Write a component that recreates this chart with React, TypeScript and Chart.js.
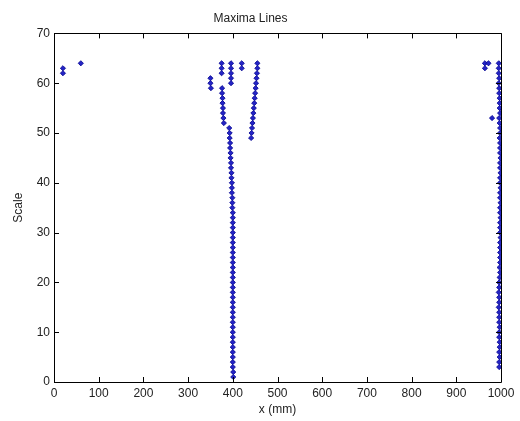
import React, { useEffect, useRef } from "react";
import { Chart, registerables } from "chart.js";

Chart.register(...registerables);

const titleText = "Maxima Lines";
const xLabel = "x (mm)";
const yLabel = "Scale";
const xTicks = [0, 100, 200, 300, 400, 500, 600, 700, 800, 900, 1000];
const yTicks = [0, 10, 20, 30, 40, 50, 60, 70];

// Cluster near the left edge
const edgeX = [20, 20, 60];
const edgeY = [63, 62, 64];

// Main line near x = 400 (scales 51 down to 1)
const mainY = [51, 50, 49, 48, 47, 46, 45, 44, 43, 42, 41, 40, 39, 38, 37, 36, 35, 34, 33, 32, 31, 30, 29, 28, 27, 26, 25, 24, 23, 22, 21, 20, 19, 18, 17, 16, 15, 14, 13, 12, 11, 10, 9, 8, 7, 6, 5, 4, 3, 2, 1];
const mainX = [392, 393, 393, 394, 394, 395, 395, 396, 396, 397, 397, 398, 398, 398, 399, 399, 399, 400, 400, 400, 400, 400, 400, 400, 400, 400, 400, 400, 400, 400, 400, 400, 400, 400, 400, 400, 400, 400, 400, 400, 400, 400, 400, 400, 400, 400, 400, 400, 400, 401, 401];

// Left branch and small groups near the top of the 400 line
const branchLX = [376, 376, 377, 377, 378, 378, 379, 380];
const branchLY = [59, 58, 57, 56, 55, 54, 53, 52];
const farLX = [350, 350, 351];
const farLY = [61, 60, 59];
const topAX = [375, 375, 375];
const topAY = [64, 63, 62];
const topBX = [396, 396, 396, 396, 396];
const topBY = [64, 63, 62, 61, 60];
const topCX = [420, 420];
const topCY = [64, 63];

// Right branch near x = 450
const branchRY = [64, 63, 62, 61, 60, 59, 58, 57, 56, 55, 54, 53, 52, 51, 50, 49];
const branchRX = [455, 455, 454, 453, 452, 451, 450, 449, 448, 447, 446, 445, 444, 443, 442, 441];

// Cluster near x = 1000
const nearEndX = [964, 972, 964, 980];
const nearEndY = [64, 64, 63, 53];
const endY = [64, 63, 62, 61, 60, 59, 58, 57, 56, 55, 54, 53, 52, 51, 50, 49, 48, 47, 46, 45, 44, 43, 42, 41, 40, 39, 38, 37, 36, 35, 34, 33, 32, 31, 30, 29, 28, 27, 26, 25, 24, 23, 22, 21, 20, 19, 18, 17, 16, 15, 14, 13, 12, 11, 10, 9, 8, 7, 6, 5, 4, 3];
const endX = [995, 995, 995, 996, 995, 996, 996, 997, 997, 997, 998, 996, 997, 998, 998, 997, 998, 998, 998, 999, 998, 998, 999, 998, 998, 999, 998, 998, 999, 998, 998, 999, 998, 998, 998, 999, 998, 998, 998, 998, 998, 997, 998, 997, 996, 996, 995, 996, 996, 995, 996, 996, 996, 997, 996, 996, 997, 997, 996, 997, 996, 996];

function pairs(xs: number[], ys: number[]) {
  return xs.map((x, i) => ({ x, y: ys[i] }));
}

const inwardTicks = {
  id: "inwardTicks",
  afterDraw(chart: any) {
    const { ctx, chartArea } = chart;
    const xs = chart.scales.x;
    const ys = chart.scales.y;
    const len = 5;
    ctx.save();
    ctx.strokeStyle = "#000";
    ctx.lineWidth = 1;
    ctx.beginPath();
    ctx.rect(Math.round(chartArea.left) + 0.5, Math.round(chartArea.top) + 0.5, Math.round(chartArea.right - chartArea.left), Math.round(chartArea.bottom - chartArea.top));
    for (const v of xTicks) {
      const px = Math.round(xs.getPixelForValue(v)) + 0.5;
      ctx.moveTo(px, chartArea.bottom);
      ctx.lineTo(px, chartArea.bottom - len);
      ctx.moveTo(px, chartArea.top);
      ctx.lineTo(px, chartArea.top + len);
    }
    for (const v of yTicks) {
      const py = Math.round(ys.getPixelForValue(v)) + 0.5;
      ctx.moveTo(chartArea.left, py);
      ctx.lineTo(chartArea.left + len, py);
      ctx.moveTo(chartArea.right, py);
      ctx.lineTo(chartArea.right - len, py);
    }
    ctx.stroke();
    ctx.restore();
  },
};

export default function App() {
  const ref = useRef<HTMLCanvasElement | null>(null);
  useEffect(() => {
    if (!ref.current) return;
    const font = { family: "'Liberation Sans', Arial, sans-serif", size: 12 };
    const groups = [
      pairs(edgeX, edgeY),
      pairs(mainX, mainY),
      pairs(branchLX, branchLY),
      pairs(farLX, farLY),
      pairs(topAX, topAY),
      pairs(topBX, topBY),
      pairs(topCX, topCY),
      pairs(branchRX, branchRY),
      pairs(nearEndX, nearEndY),
      pairs(endX, endY),
    ];
    const chart = new Chart(ref.current, {
      type: "scatter",
      data: {
        datasets: groups.map((g) => ({
          data: g,
          pointStyle: "rectRot",
          pointRadius: 2.6,
          backgroundColor: "#2424c4",
          borderColor: "#000090",
          borderWidth: 0.8,
        })),
      },
      options: {
        animation: false,
        responsive: false,
        events: [],
        layout: { padding: { left: 0, right: 19, top: 0, bottom: 0 } },
        plugins: {
          legend: { display: false },
          tooltip: { enabled: false },
          title: {
            display: true,
            text: titleText,
            color: "#222",
            font: { family: font.family, size: 12, weight: "normal" },
            padding: { top: 11, bottom: 8 },
          },
        },
        scales: {
          x: {
            type: "linear",
            min: 0,
            max: 1000,
            afterBuildTicks: (s: any) => {
              s.ticks = xTicks.map((v) => ({ value: v }));
            },
            afterFit: (s: any) => {
              s.height = 39;
            },
            grid: { display: false, drawTicks: false },
            border: { display: false },
            ticks: { color: "#222", font, padding: 4, maxRotation: 0, callback: (v: any) => String(v) },
            title: { display: true, text: xLabel, color: "#222", font, padding: { top: 0, bottom: 4 } },
          },
          y: {
            type: "linear",
            min: 0,
            max: 70,
            afterBuildTicks: (s: any) => {
              s.ticks = yTicks.map((v) => ({ value: v }));
            },
            afterFit: (s: any) => {
              s.width = 54;
            },
            grid: { display: false, drawTicks: false },
            border: { display: false },
            ticks: { color: "#222", font, padding: 4, callback: (v: any) => String(v) },
            title: { display: true, text: yLabel, color: "#222", font, padding: { top: 11, bottom: 0 } },
          },
        },
      },
      plugins: [inwardTicks],
    });
    return () => chart.destroy();
  }, []);
  return (
    <div style={{ position: "fixed", left: 0, top: 0, width: 520, height: 421, background: "#fff" }}>
      <canvas ref={ref} width={520} height={421} style={{ display: "block" }} />
    </div>
  );
}
